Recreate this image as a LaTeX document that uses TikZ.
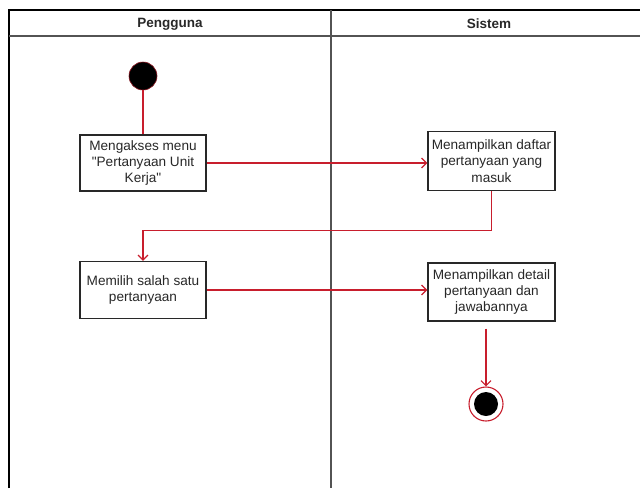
\documentclass[tikz,border=0pt]{standalone}
\usepackage{fontspec}
\setmainfont{Liberation Sans}[Ligatures=TeXOff]
\usetikzlibrary{arrows.meta}
\definecolor{flow}{RGB}{200,30,45}
\definecolor{ink}{RGB}{40,40,40}
\tikzset{
  lane/.style={draw=black, line width=2.4pt},
  divider/.style={draw=ink!80, line width=1.4pt},
  lanetitle/.style={font=\bfseries\fontsize{13.5}{16}\selectfont, text=ink},
  action/.style={draw=ink, line width=1.2pt, fill=white, align=center,
    inner sep=0pt, text=ink, font=\fontsize{13.6}{16.2}\selectfont},
  flowline/.style={draw=flow, line width=1.2pt},
  flowarrow/.style={flowline, -{Straight Barb[length=5pt,width=10pt]}},
}
\begin{document}
\begin{tikzpicture}[x=1pt,y=-1pt]
  \useasboundingbox (0,0) rectangle (640,488);
  % swimlane frame
  \draw[lane] (9,488) -- (9,10) -- (640,10);
  \draw[divider] (9,36) -- (640,36);
  \draw[divider] (331,10) -- (331,488);
  \node[lanetitle] (laneA) at (170,24) {Pengguna};
  \node[lanetitle] (laneB) at (489,24) {Sistem};

  % start and end states
  \node[circle, fill=black, draw=flow!70!black, line width=0.6pt,
        minimum size=28pt, inner sep=0pt] (start) at (143,76) {};
  \node[circle, fill=white, draw=flow, line width=1.1pt,
        minimum size=34pt, inner sep=0pt] (end) at (486,404) {};
  \node[circle, fill=black, minimum size=24pt, inner sep=0pt] (endin) at (end) {};

  % actions
  \node[action, minimum width=126pt, minimum height=56pt] (akses) at (143,163)
    {Mengakses menu\\"Pertanyaan Unit\\Kerja"};
  \node[action, minimum width=127pt, minimum height=59pt] (daftar) at (491.5,161)
    {Menampilkan daftar\\pertanyaan yang\\masuk};
  \node[action, minimum width=126pt, minimum height=57pt] (pilih) at (143,290)
    {Memilih salah satu\\pertanyaan};
  \node[action, minimum width=127pt, minimum height=58pt] (detail) at (491.5,292)
    {Menampilkan detail\\pertanyaan dan\\jawabannya};

  % control flow
  \draw[flowline] (start) -- (akses.north);
  \draw[flowarrow] (akses.east) -- (akses.east -| daftar.west);
  \draw[flowarrow] (daftar.south) -- ++(0,39) -| (pilih.north);
  \draw[flowarrow] (pilih.east) -- (pilih.east -| detail.west);
  \draw[flowarrow, shorten <=7pt] (end.north |- detail.south) -- (end.north);
\end{tikzpicture}
\end{document}
